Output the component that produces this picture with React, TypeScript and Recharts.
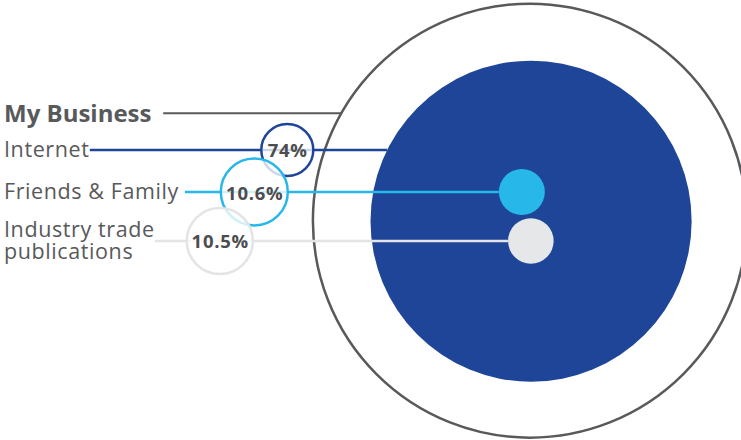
import React from "react";
import { ScatterChart, Scatter, XAxis, YAxis } from "recharts";

// Source of new business, nested circles: radius is proportional to the share
const categories = ["My Business", "Internet", "Friends & Family", "Industry trade publications"];
const labelLines = [["My Business"], ["Internet"], ["Friends & Family"], ["Industry trade", "publications"]];
const shares = [100, 74, 10.6, 10.5];
const shareLabels = ["", "74%", "10.6%", "10.5%"];
// circle centres, same units as the shares (outer circle radius = 100)
const centerX = [0, 0.55, -3.7, 0.45];
const centerY = [0, -0.25, 13.2, -9.35];
// leader lines: height, start, and where the value ring sits
const leaderY = [49.5, 32.6, 13.2, -9.35];
const leaderStartX = [-169, -202.8, -159, -172.8];
const ringX = [null, -111.8, -127, -142.9];

const W = 741;
const H = 440;
const X_DOMAIN: [number, number] = [-244.2, 97.3];
const Y_DOMAIN: [number, number] = [-101.1, 101.7];
const K = W / (X_DOMAIN[1] - X_DOMAIN[0]); // px per unit, same on both axes

const TEXT = "#58595b";
const colors = ["#58595b", "#1f4599", "#27b7e8", "#e6e7e8"];
const lineColors = ["#58595b", "#1f4599", "#27b7e8", "#e3e4e6"];
const ringR = [0, 26, 33.5, 33];
const FONT = "'Open Sans', sans-serif";

const circleData = shares.map((share, i) => ({ x: centerX[i], y: centerY[i], share, i }));

// line ends on the left edge of the circle it points at
const annotationData = categories.map((name, i) => {
  const dy = leaderY[i] - centerY[i];
  const endX = centerX[i] - Math.sqrt(Math.max(shares[i] * shares[i] - dy * dy, 0));
  return { x: endX, y: leaderY[i], name, i };
});

const CircleShape = (props: any) => {
  const { cx, cy, payload } = props;
  const r = payload.share * K;
  if (payload.i === 0) {
    return <circle cx={cx} cy={cy} r={r} fill="#fff" stroke={colors[0]} strokeWidth={2.5} />;
  }
  return <circle cx={cx} cy={cy} r={r} fill={colors[payload.i]} />;
};

const AnnotationShape = (props: any) => {
  const { cx, cy, payload } = props;
  const i = payload.i;
  const startPx = cx + (leaderStartX[i] - payload.x) * K;
  const lines = labelLines[i];
  const bold = i === 0;
  const fontSize = bold ? 24 : 21.5;
  const capH = bold ? 18 : 14.6;
  const lineGap = 22.3;
  const firstBaseline = cy + capH / 2 - ((lines.length - 1) * lineGap) / 2;
  const rx = ringX[i];
  const ringPx = rx === null ? null : cx + (rx - payload.x) * K;
  return (
    <g>
      <line x1={startPx} y1={cy} x2={cx} y2={cy} stroke={lineColors[i]} strokeWidth={i === 0 ? 2 : 2.5} />
      <text
        x={4}
        y={firstBaseline}
        fill={TEXT}
        fontFamily={FONT}
        fontSize={fontSize}
        fontWeight={bold ? 700 : 400}
        letterSpacing={bold ? 0 : 0.6}
      >
        {lines.map((t, j) => (
          <tspan key={j} x={4} dy={j === 0 ? 0 : lineGap}>
            {t}
          </tspan>
        ))}
      </text>
      {ringPx !== null && (
        <g>
          <circle cx={ringPx} cy={cy} r={ringR[i]} fill="#fff" fillOpacity={0.78} stroke={lineColors[i]} strokeWidth={2.5} />
          <text
            x={ringPx + 0.4}
            y={cy}
            textAnchor="middle"
            dominantBaseline="central"
            fill="#4d4d4f"
            fontFamily={FONT}
            fontSize={18.5}
            fontWeight={700}
            letterSpacing={0.7}
          >
            {shareLabels[i]}
          </text>
        </g>
      )}
    </g>
  );
};

export default function App() {
  return (
    <div style={{ position: "absolute", left: 0, top: 0, width: W, height: H, background: "#fff" }}>
      <ScatterChart width={W} height={H} margin={{ top: 0, right: 0, bottom: 0, left: 0 }}>
        <XAxis type="number" dataKey="x" domain={X_DOMAIN} allowDataOverflow hide />
        <YAxis type="number" dataKey="y" domain={Y_DOMAIN} allowDataOverflow hide />
        <Scatter data={circleData} shape={CircleShape} isAnimationActive={false} />
        <Scatter data={annotationData} shape={AnnotationShape} isAnimationActive={false} />
      </ScatterChart>
    </div>
  );
}
